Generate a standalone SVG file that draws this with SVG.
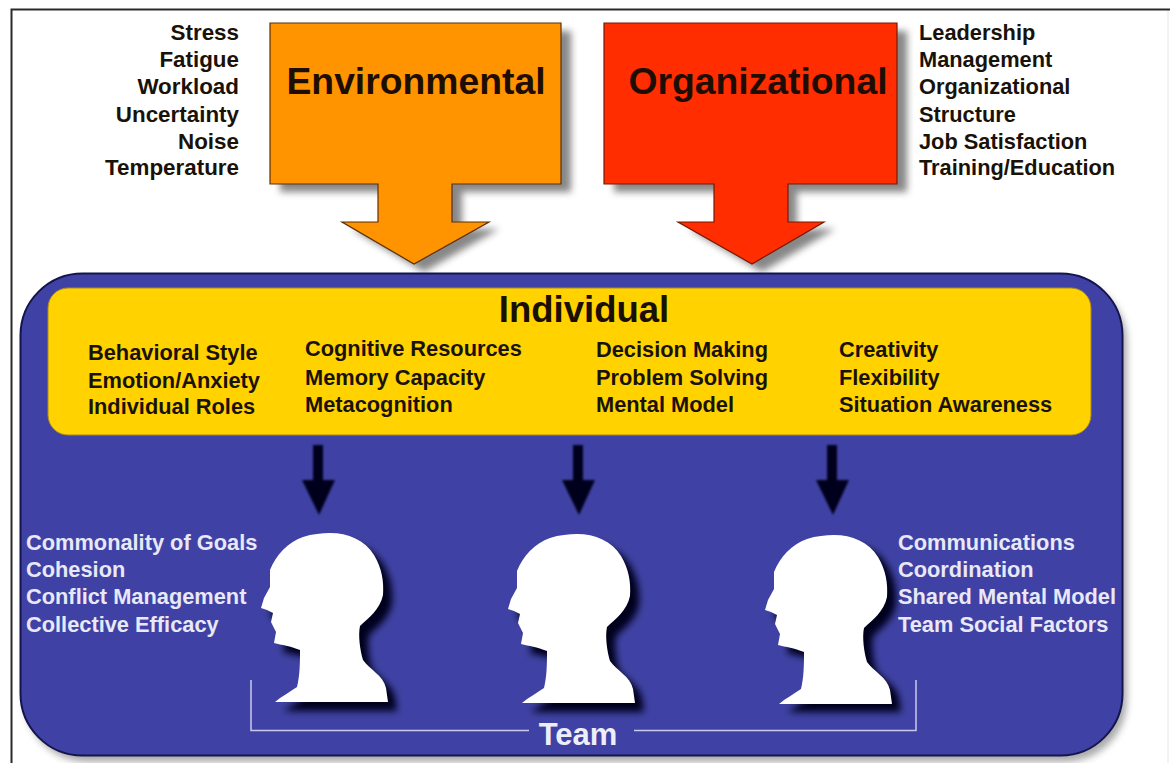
<svg xmlns="http://www.w3.org/2000/svg" width="1170" height="763" viewBox="0 0 1170 763">
<defs>
<style>
text{font-family:"Liberation Sans",Arial,sans-serif;font-weight:700;font-size:21.800px}
.d{fill:#1a1208}
.w{fill:#e8e8f6}
.e{text-anchor:end;font-size:22.400px}
.t{font-size:37.300px;fill:#1e0d04}
</style>
<filter id="sh" x="-20%" y="-20%" width="140%" height="140%"><feGaussianBlur stdDeviation="3.500"/></filter>
<filter id="b" x="-40%" y="-30%" width="180%" height="160%"><feGaussianBlur stdDeviation="1"/></filter>
<path id="head" d="M90 33C108 33 125 40 134 55C142 68 144 82 143 95C140 110 128 118 120 126C118 135 120 150 123 160C130 170 143 175 146 188L148 202L35 202C42 196 50 192 57 187C60 175 60 162 60 150C50 146 42 145 34 143L36 132L31 122L33 113L27 110L21 108L24 98L30 87L30 70C36 55 48 42 63 37C72 34 82 33 90 33Z"/>
<path id="ar" d="M0 0H10V35H22L6 70L-11 35H0Z"/>
</defs>
<rect width="1170" height="763" fill="#fff"/>
<path d="M1168 9.500V763" fill="none" stroke="#e6e6e6" stroke-width="1"/>
<path d="M11.500 763V9.500H1170" fill="none" stroke="#2a2a2a" stroke-width="2"/>
<g id="environmental">
<path d="M280 31H571V192H462V229H499L424 272L352 229H388V192H280Z" fill="#555" opacity=".7" filter="url(#sh)"/>
<path d="M270 23H561V184H452V222H489L414 264L342 222H378V184H270Z" fill="#ff9300" stroke="#5a3008" stroke-width="1.200"/>
<text class="t" x="416" y="94" text-anchor="middle">Environmental</text>
</g>
<g id="organizational">
<path d="M614 31H907V192H797V229H835L762 272L689 229H726V192H614Z" fill="#555" opacity=".7" filter="url(#sh)"/>
<path d="M604 23H897V184H788V222H824L752 264L678 222H714V184H604Z" fill="#ff2d00" stroke="#7a1800" stroke-width="1.200"/>
<text class="t" x="758" y="94" text-anchor="middle">Organizational</text>
</g>
<g id="env-list" class="d">
<text class="e" x="239" y="40">Stress</text>
<text class="e" x="239" y="67">Fatigue</text>
<text class="e" x="239" y="94">Workload</text>
<text class="e" x="239" y="122">Uncertainty</text>
<text class="e" x="239" y="149">Noise</text>
<text class="e" x="239" y="175">Temperature</text>
</g>
<g id="org-list" class="d">
<text x="919" y="40">Leadership</text>
<text x="919" y="67">Management</text>
<text x="919" y="94">Organizational</text>
<text x="919" y="122">Structure</text>
<text x="919" y="149">Job Satisfaction</text>
<text x="919" y="175">Training/Education</text>
</g>
<g id="team">
<rect x="25" y="280" width="1102" height="482" rx="62" fill="#666" opacity=".55" filter="url(#sh)"/>
<rect x="20.500" y="273.500" width="1102" height="482" rx="62" fill="#3f42a4" stroke="#14144e" stroke-width="2"/>
</g>
<g id="individual">
<rect x="48" y="288" width="1043" height="147" rx="20" fill="#ffd200" stroke="#a88a20" stroke-width="1"/>
<text x="584" y="322" text-anchor="middle" style="font-size:36.500px" fill="#1a0f04">Individual</text>
<g class="d">
<text x="88" y="360">Behavioral Style</text>
<text x="88" y="388">Emotion/Anxiety</text>
<text x="88" y="414">Individual Roles</text>
<text x="305" y="356">Cognitive Resources</text>
<text x="305" y="385">Memory Capacity</text>
<text x="305" y="412">Metacognition</text>
<text x="596" y="357">Decision Making</text>
<text x="596" y="385">Problem Solving</text>
<text x="596" y="412">Mental Model</text>
<text x="839" y="357">Creativity</text>
<text x="839" y="385">Flexibility</text>
<text x="839" y="412">Situation Awareness</text>
</g>
</g>
<g id="connectors">
<use href="#ar" x="313" y="445" fill="#00001c" filter="url(#b)"/>
<use href="#ar" x="573" y="445" fill="#00001c" filter="url(#b)"/>
<use href="#ar" x="827" y="445" fill="#00001c" filter="url(#b)"/>
<path d="M251 680V730.500H529M634 730.500H916V680" fill="none" stroke="#c9c9ee" stroke-width="1.500"/>
</g>
<g id="head-1">
<use href="#head" x="249" y="509" fill="#00001c" filter="url(#sh)"/>
<use href="#head" x="240" y="500" fill="#fff"/>
</g>
<g id="head-2">
<use href="#head" x="496" y="510" fill="#00001c" filter="url(#sh)"/>
<use href="#head" x="487" y="501" fill="#fff"/>
</g>
<g id="head-3">
<use href="#head" x="753" y="510" fill="#00001c" filter="url(#sh)"/>
<use href="#head" x="744" y="502" fill="#fff"/>
</g>
<g id="left-list" class="w">
<text x="26" y="550">Commonality of Goals</text>
<text x="26" y="577">Cohesion</text>
<text x="26" y="604">Conflict Management</text>
<text x="26" y="632">Collective Efficacy</text>
</g>
<g id="right-list" class="w">
<text x="898" y="550">Communications</text>
<text x="898" y="577">Coordination</text>
<text x="898" y="604">Shared Mental Model</text>
<text x="898" y="632">Team Social Factors</text>
</g>
<text id="team-label" x="578" y="745" text-anchor="middle" style="font-size:31px" fill="#eeeef8">Team</text>
</svg>
